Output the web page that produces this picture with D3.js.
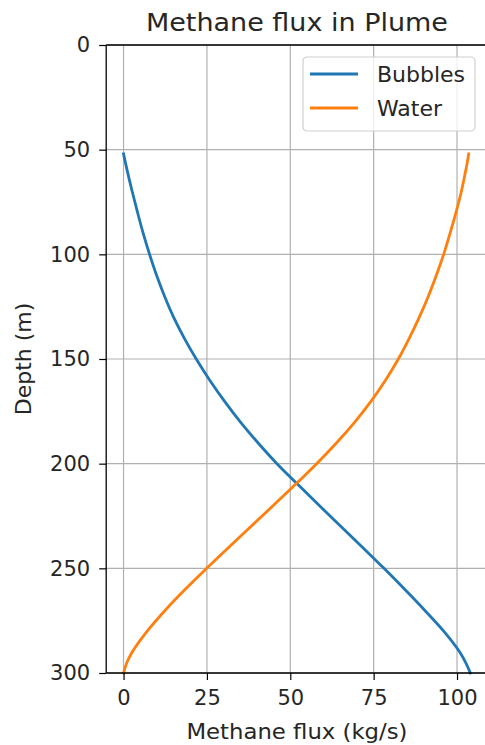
<!DOCTYPE html>
<html>
<head>
<meta charset="utf-8">
<script src="https://cdn.jsdelivr.net/npm/d3@7"></script>
<style>
  html, body { margin: 0; padding: 0; background: #fff; }
  svg { display: block; font-family: "DejaVu Sans", sans-serif; }
</style>
</head>
<body>
<svg id="chart" width="485" height="745"></svg>
<script>
// Depth samples (m) shared by both profiles
const depths = [52, 55, 60, 70, 80, 90, 100, 110, 120, 130, 140, 150, 160, 170, 180, 190,
                200, 210, 220, 230, 240, 250, 260, 270, 280, 290, 295, 300];
// Methane flux carried by bubbles (kg/s)
const bubbles = [0, 0.4, 1.1, 2.6, 4.2, 5.9, 7.8, 9.9, 12.3, 15.0, 18.2, 21.8, 25.8, 30.2, 35.0, 40.3,
                 46.0, 52.3, 58.7, 65.2, 71.7, 78.1, 84.3, 90.3, 96.0, 100.8, 102.6, 104.0];
// Methane flux dissolved in water (kg/s)
const water = [103.5, 103.2, 102.6, 101.3, 99.7, 97.9, 96.0, 93.8, 91.4, 88.7, 85.7, 82.4, 78.6, 74.3, 69.4, 63.9,
               57.9, 51.5, 44.9, 38.2, 31.5, 24.9, 18.5, 12.5, 7.1, 2.6, 1.0, 0];
const seriesNames = ["Bubbles", "Water"];
const seriesColors = ["#1f77b4", "#ff7f0e"];
const xTicks = [0, 25, 50, 75, 100];
const yTicks = [0, 50, 100, 150, 200, 250, 300];

const svg = d3.select("#chart");
const plot = { left: 106.2, right: 487.7, top: 45, bottom: 673 };

const x = d3.scaleLinear().domain([-5.2, 109.2]).range([plot.left, plot.right]);
const y = d3.scaleLinear().domain([0, 300]).range([plot.top, plot.bottom]);

const tickFont = 21;
const textColor = "#262626";

// grid
const grid = svg.append("g");
grid.selectAll("line.vx").data(xTicks).join("line")
  .attr("x1", d => x(d)).attr("x2", d => x(d))
  .attr("y1", plot.top).attr("y2", plot.bottom)
  .attr("stroke", "#b0b0b0").attr("stroke-width", 1.2);
grid.selectAll("line.hy").data(yTicks).join("line")
  .attr("x1", plot.left).attr("x2", plot.right)
  .attr("y1", d => y(d)).attr("y2", d => y(d))
  .attr("stroke", "#b0b0b0").attr("stroke-width", 1.2);

// series lines
const rows = depths.map((d, i) => ({ depth: d, values: [bubbles[i], water[i]] }));
const line = k => d3.line()
  .x(r => x(r.values[k]))
  .y(r => y(r.depth))
  .curve(d3.curveMonotoneY);
seriesNames.forEach((name, k) => {
  svg.append("path")
    .datum(rows)
    .attr("d", line(k))
    .attr("fill", "none")
    .attr("stroke", seriesColors[k])
    .attr("stroke-width", 2.8)
    .attr("stroke-linecap", "square");
});

// axes
const xAxis = d3.axisBottom(x).tickValues(xTicks).tickSize(7).tickPadding(10).tickFormat(d3.format("d"));
const yAxis = d3.axisLeft(y).tickValues(yTicks).tickSize(7).tickPadding(9).tickFormat(d3.format("d"));

const gx = svg.append("g").attr("transform", `translate(0,${plot.bottom})`).call(xAxis);
const gy = svg.append("g").attr("transform", `translate(${plot.left},0)`).call(yAxis);
[gx, gy].forEach(g => {
  g.select(".domain").remove();
  g.selectAll(".tick line").attr("stroke", "#000").attr("stroke-width", 1.2);
  g.selectAll(".tick text").attr("fill", textColor).style("font-size", tickFont + "px")
    .style("font-family", "DejaVu Sans, sans-serif");
});

// spines (the right one falls just past the canvas edge)
const spines = svg.append("g").attr("stroke", "#000").attr("stroke-width", 1.3).attr("fill", "none");
spines.append("line").attr("x1", plot.left).attr("x2", plot.left).attr("y1", plot.top).attr("y2", plot.bottom);
spines.append("line").attr("x1", plot.left).attr("x2", plot.right).attr("y1", plot.bottom).attr("y2", plot.bottom);
spines.append("line").attr("x1", plot.left).attr("x2", plot.right).attr("y1", plot.top).attr("y2", plot.top);

// title and axis labels
const cx = (plot.left + plot.right) / 2;
svg.append("text").attr("x", cx).attr("y", 31).attr("text-anchor", "middle")
  .attr("fill", textColor).style("font-size", "24px")
  .attr("textLength", 302).attr("lengthAdjust", "spacingAndGlyphs")
  .text("Methane flux in Plume");
svg.append("text").attr("x", cx).attr("y", 739).attr("text-anchor", "middle")
  .attr("fill", textColor).style("font-size", "21.5px")
  .attr("textLength", 221).attr("lengthAdjust", "spacingAndGlyphs")
  .text("Methane flux (kg/s)");
svg.append("text")
  .attr("transform", `translate(31,${(plot.top + plot.bottom) / 2}) rotate(-90)`)
  .attr("text-anchor", "middle")
  .attr("fill", textColor).style("font-size", "22px").text("Depth (m)");

// legend
const legend = svg.append("g").attr("transform", "translate(303,57)");
legend.append("rect").attr("width", 172).attr("height", 74).attr("rx", 4)
  .attr("fill", "#fff").attr("fill-opacity", 0.8)
  .attr("stroke", "#d0d0d0").attr("stroke-width", 1.2);
seriesNames.forEach((name, k) => {
  const yy = 17 + k * 34;
  legend.append("line").attr("x1", 7).attr("x2", 55).attr("y1", yy).attr("y2", yy)
    .attr("stroke", seriesColors[k]).attr("stroke-width", 2.8);
  legend.append("text").attr("x", 74).attr("y", yy).attr("dy", "0.36em")
    .attr("fill", textColor).style("font-size", "22px").text(name);
});
</script>
</body>
</html>
